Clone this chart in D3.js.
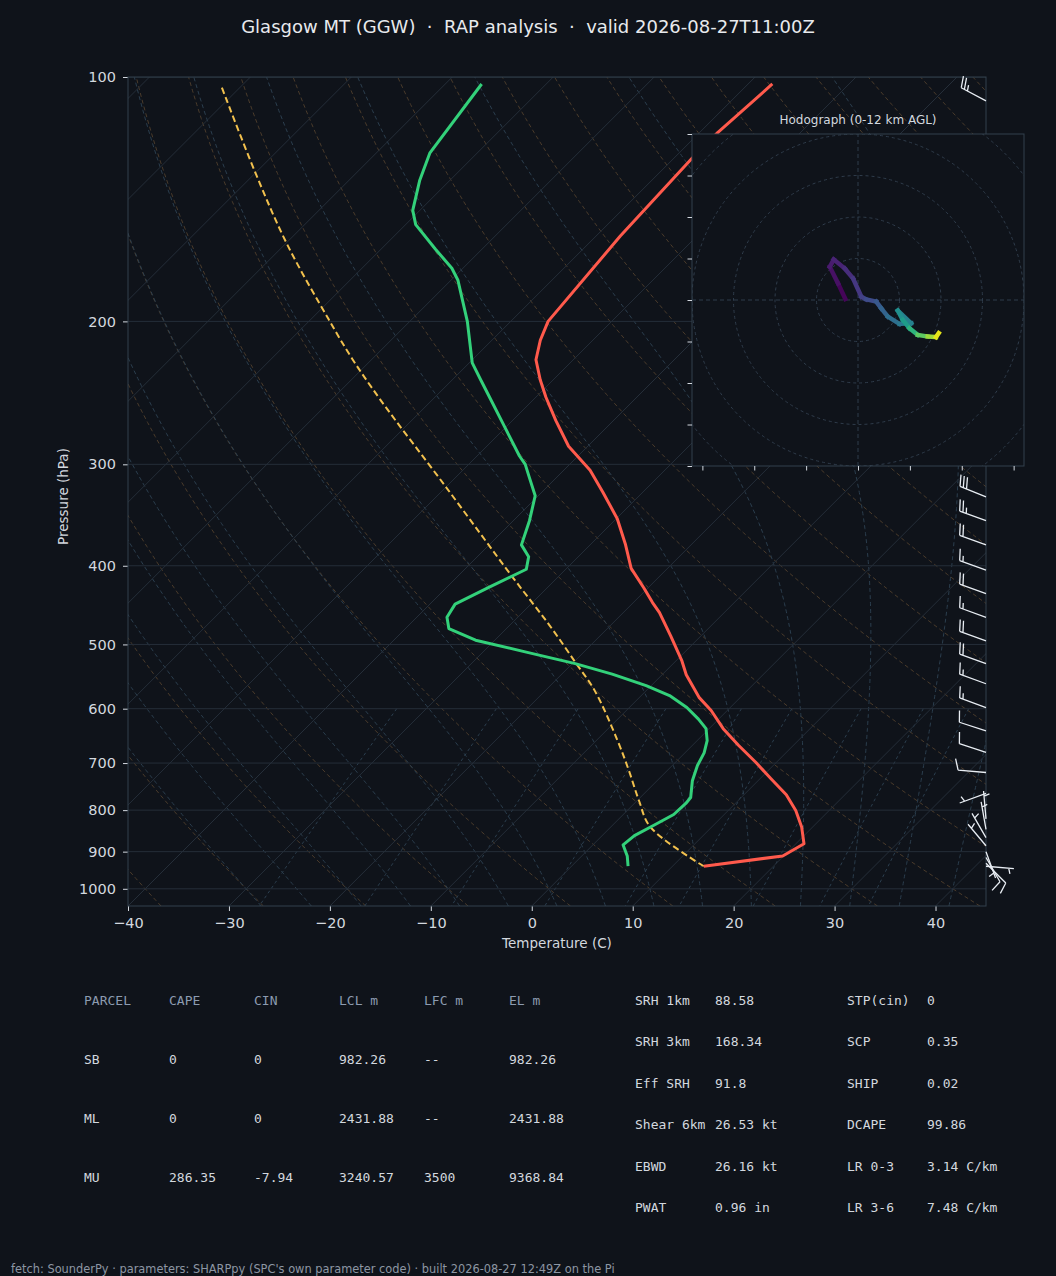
<!DOCTYPE html>
<html>
<head>
<meta charset="utf-8">
<script src="https://cdn.jsdelivr.net/npm/d3@7"></script>
<style>
  html, body { margin: 0; padding: 0; background: #0f131a; }
  svg { display: block; }
</style>
</head>
<body>
<div class="chart"></div>
<script>
/* global d3 */

// sounding values
const tempP = [938, 911, 880, 839, 801, 766, 732, 699, 666, 635, 603, 581, 545, 524, 488, 457, 444, 426, 403, 376, 350, 325, 305, 285, 265, 248, 236, 223, 211, 200, 157, 126, 117, 102];
const tempC = [13.1, 19.9, 20.8, 18.9, 16.7, 14.2, 11.1, 8.0, 4.6, 1.4, -1.6, -4.1, -7.6, -9.4, -13.0, -16.4, -18.1, -20.4, -23.6, -26.6, -29.9, -33.9, -37.4, -41.9, -45.7, -49.0, -51.3, -53.7, -55.2, -56.3, -57.6, -58.2, -58.2, -57.6];

const dewP = [938, 911, 883, 860, 832, 810, 785, 772, 736, 705, 680, 657, 635, 618, 598, 578, 562, 544, 528, 511, 494, 478, 463, 446, 425, 404, 390, 377, 352, 328, 310, 300, 293, 269, 247, 236, 225, 200, 178, 172, 163, 152, 146, 134, 124, 102];
const dewC = [5.6, 4.5, 3.0, 3.2, 4.2, 5.0, 5.1, 5.0, 3.5, 2.5, 1.9, 1.0, -0.3, -2.0, -4.3, -7.2, -10.5, -15.0, -19.7, -25.7, -31.9, -35.7, -37.0, -37.5, -35.8, -33.9, -34.9, -36.8, -38.4, -40.3, -42.9, -44.4, -45.8, -50.3, -54.8, -57.2, -59.7, -64.3, -69.3, -71.1, -74.6, -79.0, -80.7, -83.0, -84.7, -86.4];

const parcelP = [938, 839, 779, 715, 654, 570, 528, 474, 413, 320, 250, 222, 199, 161, 131, 103];
const parcelC = [13.1, 3.9, 0.2, -3.8, -8.1, -15.1, -19.6, -26.0, -34.5, -50.0, -65.1, -72.1, -78.2, -89.7, -100.1, -111.8];

// wind barbs (hPa, direction deg, speed kt)
const barbP = [107, 329, 352, 377, 405, 433, 463, 495, 528, 559, 598, 639, 679, 719, 763, 820, 845, 865, 885, 900, 915, 930, 938];
const barbDir = [298, 292, 290, 290, 290, 290, 290, 290, 290, 290, 290, 288, 288, 275, 250, 355, 350, 330, 320, 160, 150, 135, 95];
const barbKt = [25, 30, 25, 20, 15, 20, 15, 20, 20, 15, 15, 10, 10, 10, 5, 5, 5, 5, 5, 5, 10, 10, 5];

// hodograph (kt) coloured by height (km AGL)
const hodoU = [-6.1, -9.6, -13.6, -11.7, -6.4, -2.4, 1.6, 4.0, 8.8, 11.2, 14.4, 20.0, 25.6, 19.2, 21.6, 24.8, 28.8, 33.6, 37.6, 38.9];
const hodoV = [0.5, 8.0, 16.0, 19.5, 15.2, 10.4, 1.6, 0.3, -0.8, -4.0, -8.0, -11.5, -11.2, -5.1, -9.6, -13.6, -16.8, -17.6, -17.9, -16.0];
const hodoKm = [0, 0.3, 0.8, 1.0, 1.3, 1.7, 2.1, 2.5, 3.0, 3.5, 4.0, 4.6, 5.0, 5.6, 6.3, 7.0, 8.5, 9.5, 11.0, 12.0];

const pTicks = [100, 200, 300, 400, 500, 600, 700, 800, 900, 1000];
const tTicks = [-40, -30, -20, -10, 0, 10, 20, 30, 40];

const parcelHeader = ['PARCEL', 'CAPE', 'CIN', 'LCL m', 'LFC m', 'EL m'];
const parcelRows = [
  ['SB', '0', '0', '982.26', '--', '982.26'],
  ['ML', '0', '0', '2431.88', '--', '2431.88'],
  ['MU', '286.35', '-7.94', '3240.57', '3500', '9368.84']
];
const paramNames1 = ['SRH 1km', 'SRH 3km', 'Eff SRH', 'Shear 6km', 'EBWD', 'PWAT'];
const paramVals1 = ['88.58', '168.34', '91.8', '26.53 kt', '26.16 kt', '0.96 in'];
const paramNames2 = ['STP(cin)', 'SCP', 'SHIP', 'DCAPE', 'LR 0-3', 'LR 3-6'];
const paramVals2 = ['0', '0.35', '0.02', '99.86', '3.14 C/km', '7.48 C/km'];

const titleText = 'Glasgow MT (GGW)  \u00b7  RAP analysis  \u00b7  valid 2026-08-27T11:00Z';
const footText = 'fetch: SounderPy \u00b7 parameters: SHARPpy (SPC\'s own parameter code) \u00b7 built 2026-08-27 12:49Z on the Pi';

// ---- layout ----
const width = 1056;
const height = 1276;
const bg = '#0f131a';
const font = 'DejaVu Sans';
const mono = 'DejaVu Sans Mono';
const textColor = '#d3d8df';
const frameColor = '#33404d';
const gridColor = '#252e39';
const plot = {left: 128, right: 986, top: 77, bottom: 906};

const x = d3.scaleLinear().domain([-40, 45]).range([plot.left, plot.right]);
const y = d3.scaleLog().domain([1050, 100]).range([plot.bottom, plot.top]);
// 45 degree skew: isotherms shift one pixel right per pixel up
const skewX = (t, p) => x(t) + (plot.bottom - y(p));
const skewLine = d3.line().x(d => skewX(d[1], d[0])).y(d => y(d[0]));

const svg = d3.select('.chart').append('svg')
  .attr('width', width).attr('height', height);
svg.append('rect').attr('width', width).attr('height', height).attr('fill', bg);

const defs = svg.append('defs');
defs.append('clipPath').attr('id', 'plotClip').append('rect')
  .attr('x', plot.left).attr('y', plot.top)
  .attr('width', plot.right - plot.left).attr('height', plot.bottom - plot.top);

// ---- thermodynamic background lines ----
const back = svg.append('g').attr('clip-path', 'url(#plotClip)');
const logP = d3.range(0, 61).map(i => 1050 * Math.pow(100 / 1050, i / 60));

// dry adiabats
d3.range(-40, 201, 10).forEach(t0 => {
  const theta = t0 + 273.15;
  back.append('path')
    .attr('d', skewLine(logP.map(p => [p, theta * Math.pow(p / 1000, 0.2857) - 273.15])))
    .attr('fill', 'none').attr('stroke', '#4a3b2b').attr('stroke-width', 1)
    .attr('stroke-dasharray', '4,3');
});

// moist adiabats
function lapse(p, tK) {
  const Rd = 287.04749, Lv = 2.50084e6, Cp = 1004.666, eps = 0.6219569;
  const es = 6.112 * Math.exp(17.67 * (tK - 273.15) / (tK - 29.65));
  const rs = eps * es / (p - es);
  return (Rd * tK + Lv * rs) / (Cp + Lv * Lv * rs * eps / (Rd * tK * tK)) / p;
}
function rk(p, t, dp) {
  const k1 = lapse(p, t);
  const k2 = lapse(p + dp / 2, t + dp / 2 * k1);
  const k3 = lapse(p + dp / 2, t + dp / 2 * k2);
  const k4 = lapse(p + dp, t + dp * k3);
  return t + dp / 6 * (k1 + 2 * k2 + 2 * k3 + k4);
}
d3.range(-30, 46, 5).forEach(t0 => {
  let p = 1000, t = t0 + 273.15;
  const up = [[p, t]];
  while (p > 100) { t = rk(p, t, -5); p -= 5; up.push([p, t]); }
  p = 1000; t = t0 + 273.15;
  const down = [];
  while (p < 1050) { t = rk(p, t, 5); p += 5; down.push([p, t]); }
  const pts = down.reverse().concat(up).map(d => [d[0], d[1] - 273.15]);
  back.append('path').attr('d', skewLine(pts))
    .attr('fill', 'none').attr('stroke', '#2b3e4e').attr('stroke-width', 1)
    .attr('stroke-dasharray', '4,3');
});

// mixing ratio lines
[0.0004, 0.001, 0.002, 0.004, 0.007, 0.01, 0.016, 0.024, 0.032].forEach(w => {
  const pts = d3.range(0, 21).map(i => {
    const p = 600 + i * 22.5;
    const e = w * p / (0.622 + w);
    const l = Math.log(e / 6.112);
    return [p, 243.5 * l / (17.67 - l)];
  });
  back.append('path').attr('d', skewLine(pts))
    .attr('fill', 'none').attr('stroke', '#2b3e4e').attr('stroke-width', 1)
    .attr('stroke-dasharray', '3,3');
});

// isotherms and isobars
d3.range(-130, 46, 10).forEach(t => {
  back.append('line')
    .attr('x1', skewX(t, 1050)).attr('y1', y(1050))
    .attr('x2', skewX(t, 100)).attr('y2', y(100))
    .attr('stroke', gridColor).attr('stroke-width', 1);
});
back.selectAll('.isobar').data(pTicks).enter().append('line')
  .attr('class', 'isobar')
  .attr('x1', plot.left).attr('x2', plot.right)
  .attr('y1', d => y(d)).attr('y2', d => y(d))
  .attr('stroke', gridColor).attr('stroke-width', 1);

// ---- profiles ----
const tempData = tempP.map((p, i) => [p, tempC[i]]);
const dewData = dewP.map((p, i) => [p, dewC[i]]);
const parcelData = parcelP.map((p, i) => [p, parcelC[i]]);

back.append('path').attr('d', skewLine.curve(d3.curveCatmullRom)(parcelData))
  .attr('fill', 'none').attr('stroke', '#f2c14e').attr('stroke-width', 2)
  .attr('stroke-dasharray', '6.5,3.5');
skewLine.curve(d3.curveLinear);
back.append('path').attr('d', skewLine(tempData))
  .attr('fill', 'none').attr('stroke', '#ff5a4c').attr('stroke-width', 3)
  .attr('stroke-linejoin', 'round');
back.append('path').attr('d', skewLine(dewData))
  .attr('fill', 'none').attr('stroke', '#33d17a').attr('stroke-width', 3)
  .attr('stroke-linejoin', 'round');

// ---- axes ----
const yAxis = svg.append('g').attr('transform', `translate(${plot.left},0)`)
  .call(d3.axisLeft(y).tickValues(pTicks).tickFormat(d3.format('d')).tickSize(5).tickPadding(7));
const xAxis = svg.append('g').attr('transform', `translate(0,${plot.bottom})`)
  .call(d3.axisBottom(x).tickValues(tTicks).tickFormat(d3.format('d')).tickSize(5).tickPadding(6.5));
[yAxis, xAxis].forEach(ax => {
  ax.select('.domain').remove();
  ax.attr('color', textColor).attr('font-size', 14.5).attr('font-family', font);
});

svg.append('rect')
  .attr('x', plot.left).attr('y', plot.top)
  .attr('width', plot.right - plot.left).attr('height', plot.bottom - plot.top)
  .attr('fill', 'none').attr('stroke', frameColor).attr('stroke-width', 1);

svg.append('text')
  .attr('transform', `translate(68,${(plot.top + plot.bottom) / 2 + 5}) rotate(-90)`)
  .attr('text-anchor', 'middle').attr('fill', textColor)
  .attr('font-family', font).attr('font-size', 13.5)
  .text('Pressure (hPa)');
svg.append('text')
  .attr('x', (plot.left + plot.right) / 2).attr('y', 948)
  .attr('text-anchor', 'middle').attr('fill', textColor)
  .attr('font-family', font).attr('font-size', 13.5)
  .text('Temperature (C)');

// ---- wind barbs along the right edge ----
// staff points toward where the wind comes from, feathers on the left of the staff
function barbPath(x0, y0, dir, spd) {
  const L = 28, Hh = 0.4 * L, Ww = 0.25 * L, S = 0.125 * L;
  const r = dir * Math.PI / 180;
  const sx = Math.sin(r), sy = -Math.cos(r);
  const nx = -sy, ny = sx;
  let d = `M${x0},${y0}L${x0 + sx * L},${y0 + sy * L}`;
  const v = Math.round(spd / 5) * 5;
  const full = Math.floor(v / 10);
  const half = (v % 10) >= 5;
  let off = 0;
  for (let k = 0; k < full; k++) {
    const bx = x0 + sx * (L - off), by = y0 + sy * (L - off);
    d += `M${bx},${by}L${bx + nx * Hh + sx * Ww / 2},${by + ny * Hh + sy * Ww / 2}`;
    off += S;
  }
  if (half) {
    if (full === 0) off += 1.5 * S;
    const bx = x0 + sx * (L - off), by = y0 + sy * (L - off);
    d += `M${bx},${by}L${bx + nx * Hh / 2 + sx * Ww / 4},${by + ny * Hh / 2 + sy * Ww / 4}`;
  }
  return d;
}
const barbData = barbP.map((p, i) => ({p, dir: barbDir[i], kt: barbKt[i]}));
svg.selectAll('.barb').data(barbData).enter().append('path')
  .attr('class', 'barb')
  .attr('d', d => barbPath(plot.right, y(d.p), d.dir, d.kt))
  .attr('fill', 'none').attr('stroke', '#e8edf3').attr('stroke-width', 1.3);

// ---- hodograph inset ----
const hodoBox = {left: 692, right: 1024, top: 134, bottom: 466};
const hx = d3.scaleLinear().domain([-80, 80]).range([hodoBox.left, hodoBox.right]);
const hy = d3.scaleLinear().domain([-80, 80]).range([hodoBox.bottom, hodoBox.top]);
const heightColor = d3.scaleSequential(d3.interpolateViridis).domain([0, 12]);

defs.append('clipPath').attr('id', 'hodoClip').append('rect')
  .attr('x', hodoBox.left).attr('y', hodoBox.top)
  .attr('width', hodoBox.right - hodoBox.left).attr('height', hodoBox.bottom - hodoBox.top);

const hodo = svg.append('g');
hodo.append('rect')
  .attr('x', hodoBox.left).attr('y', hodoBox.top)
  .attr('width', hodoBox.right - hodoBox.left).attr('height', hodoBox.bottom - hodoBox.top)
  .attr('fill', bg);
const hodoInner = hodo.append('g').attr('clip-path', 'url(#hodoClip)');
hodoInner.selectAll('.ring').data([20, 40, 60, 80, 100]).enter().append('circle')
  .attr('class', 'ring')
  .attr('cx', hx(0)).attr('cy', hy(0)).attr('r', d => hx(d) - hx(0))
  .attr('fill', 'none').attr('stroke', '#2f3c4b').attr('stroke-width', 1)
  .attr('stroke-dasharray', '3,3');
hodoInner.append('line')
  .attr('x1', hx(-80)).attr('x2', hx(80)).attr('y1', hy(0)).attr('y2', hy(0))
  .attr('stroke', '#2f3c4b').attr('stroke-dasharray', '4,3');
hodoInner.append('line')
  .attr('x1', hx(0)).attr('x2', hx(0)).attr('y1', hy(-80)).attr('y2', hy(80))
  .attr('stroke', '#2f3c4b').attr('stroke-dasharray', '4,3');

const hodoPts = hodoU.map((u, i) => ({u, v: hodoV[i], km: hodoKm[i]}));
hodoInner.selectAll('.seg').data(d3.pairs(hodoPts)).enter().append('line')
  .attr('class', 'seg')
  .attr('x1', d => hx(d[0].u)).attr('y1', d => hy(d[0].v))
  .attr('x2', d => hx(d[1].u)).attr('y2', d => hy(d[1].v))
  .attr('stroke', d => heightColor((d[0].km + d[1].km) / 2))
  .attr('stroke-width', 4.5).attr('stroke-linecap', 'square');

hodo.append('rect')
  .attr('x', hodoBox.left).attr('y', hodoBox.top)
  .attr('width', hodoBox.right - hodoBox.left).attr('height', hodoBox.bottom - hodoBox.top)
  .attr('fill', 'none').attr('stroke', frameColor).attr('stroke-width', 1);

const hyAxis = hodo.append('g').attr('transform', `translate(${hodoBox.left},0)`)
  .call(d3.axisLeft(hy).tickValues(d3.range(-80, 81, 20)).tickFormat('').tickSize(4.5));
const hxAxis = hodo.append('g').attr('transform', `translate(0,${hodoBox.bottom})`)
  .call(d3.axisBottom(hx).tickValues(d3.range(-75, 76, 25)).tickFormat('').tickSize(4.5));
[hyAxis, hxAxis].forEach(ax => {
  ax.select('.domain').remove();
  ax.attr('color', textColor);
});
hodo.append('text')
  .attr('x', (hodoBox.left + hodoBox.right) / 2).attr('y', 124)
  .attr('text-anchor', 'middle').attr('fill', textColor)
  .attr('font-family', font).attr('font-size', 12)
  .text('Hodograph (0-12 km AGL)');

// ---- title and footer ----
svg.append('text')
  .attr('x', width / 2).attr('y', 33)
  .attr('text-anchor', 'middle').attr('fill', '#e8eaed')
  .attr('font-family', font).attr('font-size', 18)
  .style('white-space', 'pre')
  .text(titleText);
svg.append('text')
  .attr('x', 11).attr('y', 1273)
  .attr('fill', '#8d96a3')
  .attr('font-family', font).attr('font-size', 11.4)
  .text(footText);

// ---- parameter tables ----
const colX = [84, 169, 254, 339, 424, 509];
const rowY = [1000, 1059, 1118, 1177];
const table = svg.append('g').attr('font-family', mono).attr('font-size', 13)
  .style('white-space', 'pre');
parcelHeader.forEach((h, j) => {
  table.append('text').attr('x', colX[j]).attr('y', rowY[0])
    .attr('dominant-baseline', 'central').attr('fill', '#8c9bb0').text(h);
});
parcelRows.forEach((row, i) => {
  row.forEach((cell, j) => {
    table.append('text').attr('x', colX[j]).attr('y', rowY[i + 1])
      .attr('dominant-baseline', 'central').attr('fill', textColor).text(cell);
  });
});
const paramY = [1000, 1041.5, 1083, 1124.5, 1166, 1207.5];
const paramCols = [[635, paramNames1], [715, paramVals1], [847, paramNames2], [927, paramVals2]];
paramCols.forEach(([cx, vals]) => {
  vals.forEach((v, i) => {
    table.append('text').attr('x', cx).attr('y', paramY[i])
      .attr('dominant-baseline', 'central').attr('fill', textColor).text(v);
  });
});
</script>
</body>
</html>
